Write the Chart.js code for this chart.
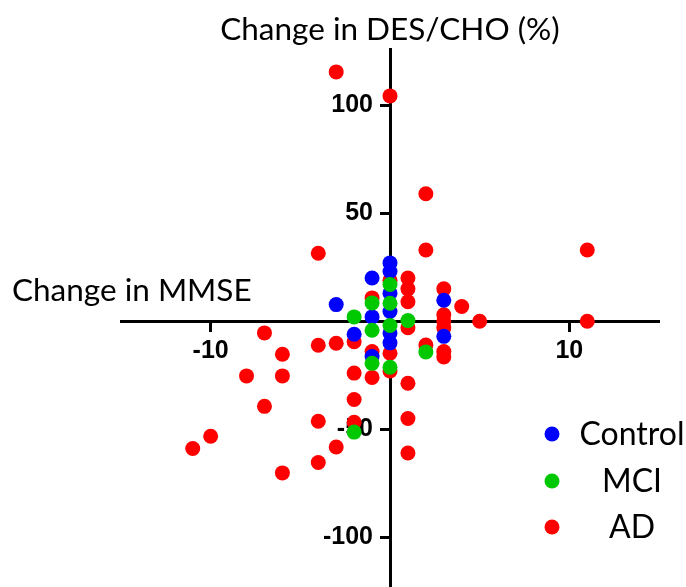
<!DOCTYPE html>
<html>
<head>
<meta charset="utf-8">
<script src="https://cdn.jsdelivr.net/npm/chart.js@4.4.0/dist/chart.umd.min.js"></script>
<style>
  html, body { margin: 0; padding: 0; background: #fff; }
  #wrap { width: 686px; height: 587px; position: relative; }
</style>
</head>
<body>
<div id="wrap"><canvas id="scatterChart"></canvas></div>
<script>
// change in MMSE (x) and change in DES/CHO % (y)
const controlX = [0, 0, 0, 0, 0, 0, -1, -1, -1, -2, -3, 3, 3];
const controlY = [27, 23, 13, 4.5, -5.5, -10, 20, 2, -16.3, -6, 7.7, 9.7, -7];

const mciX = [0, 0, 0, 0, -1, -1, -1, -2, -2, 1, 2];
const mciY = [17, 8.3, -2, -21.3, 8.5, -4.2, -19.5, 2, -51.3, 0.3, -14.2];

const adX = [-3, 0, 2, 2, -4, 11, 11, 5, 4,
  3, 3, 3, 3, 3, 3,
  1, 1, 1, 1, 1, 1, 1,
  2, 0, 0, 0,
  -1, -1, -1,
  -2, -2, -2, -2,
  -3, -3,
  -4, -4, -4,
  -6, -6, -6,
  -7, -7, -8, -10, -11];
const adY = [115.4, 104.3, 59, 33, 31.5, 33, 0, 0, 6.8,
  15, 3, 0, -3, -14, -16.5,
  20, 15, 9, -3, -28.7, -45, -61,
  -11, 19, -14.8, -23,
  10.8, -14, -26,
  -9.5, -24, -36.2, -46.8,
  -10.2, -58.2,
  -11.1, -46.3, -65.4,
  -15.3, -25.3, -70.2,
  -5.4, -39.4, -25.3, -53.2, -58.9];

const xTicks = [-10, 10];
const yTicks = [100, 50, -50, -100];

const groupNames = ['Control', 'MCI', 'AD'];
const groupColors = ['#0000ff', '#00c800', '#ff0000'];

function toPoints(xs, ys) {
  return xs.map((x, i) => ({x: x, y: ys[i]}));
}

function noPadding(scale) {
  scale.paddingLeft = 0;
  scale.paddingRight = 0;
  scale.paddingTop = 0;
  scale.paddingBottom = 0;
}

// the y axis sits at x=0, chart.js puts its labels right on the line, so move them left of the ticks
const shiftYLabels = {
  id: 'shiftYLabels',
  beforeDraw(chart) {
    const s = chart.scales.y;
    const items = s._computeLabelItems(chart.chartArea);
    items.forEach(item => {
      const t = item.options.translation;
      item.options.translation = [t[0] - 17, t[1]];
    });
    s._labelItems = items;
  }
};

// axis titles next to the crossing axes and the legend in the lower right
const titlesAndLegend = {
  id: 'titlesAndLegend',
  afterDraw(chart) {
    const ctx = chart.ctx;
    const axisX = chart.scales.x.getPixelForValue(0);
    const axisY = chart.scales.y.getPixelForValue(0);
    ctx.save();
    ctx.fillStyle = '#000';
    ctx.font = '31.5px Lato';
    ctx.textBaseline = 'alphabetic';
    ctx.textAlign = 'center';
    ctx.fillText('Change in DES/CHO (%)', axisX, 40);
    ctx.textAlign = 'left';
    ctx.fillText('Change in MMSE', 12, axisY - 20);

    ctx.font = '32px Lato';
    ctx.textAlign = 'center';
    ctx.textBaseline = 'middle';
    const rows = [434, 481, 527];
    groupNames.forEach((name, i) => {
      ctx.fillStyle = groupColors[i];
      ctx.beginPath();
      ctx.arc(552, rows[i], 7.5, 0, Math.PI * 2);
      ctx.fill();
      ctx.fillStyle = '#000';
      ctx.fillText(name, 632, rows[i] + 1);
    });
    ctx.restore();
  }
};

const tickFont = {family: 'Liberation Sans', size: 25, weight: 'bold'};

const scatter_config = {
  type: 'scatter',
  data: {
    datasets: [
      {label: groupNames[0], data: toPoints(controlX, controlY), backgroundColor: groupColors[0], order: 1},
      {label: groupNames[1], data: toPoints(mciX, mciY), backgroundColor: groupColors[1], order: 0},
      {label: groupNames[2], data: toPoints(adX, adY), backgroundColor: groupColors[2], order: 2},
    ]
  },
  options: {
    responsive: true,
    maintainAspectRatio: false,
    animation: false,
    layout: {autoPadding: false, padding: {left: 121, right: 27, top: 49, bottom: 0}},
    elements: {point: {radius: 7.5, hoverRadius: 7.5, borderWidth: 0}},
    plugins: {
      legend: {display: false},
      tooltip: {enabled: false}
    },
    scales: {
      x: {
        type: 'linear',
        min: -15,
        max: 15,
        position: {y: 0},
        afterBuildTicks: s => { s.ticks = xTicks.map(v => ({value: v})); },
        afterFit: noPadding,
        border: {display: true, color: '#000', width: 3},
        grid: {drawOnChartArea: false, drawTicks: true, tickLength: 9, tickWidth: 3, tickColor: '#000'},
        ticks: {color: '#000', font: tickFont, padding: 6, autoSkip: false, maxRotation: 0}
      },
      y: {
        type: 'linear',
        min: -123,
        max: 126,
        position: {x: 0},
        afterBuildTicks: s => { s.ticks = yTicks.map(v => ({value: v})); },
        afterFit: noPadding,
        border: {display: true, color: '#000', width: 3},
        grid: {drawOnChartArea: false, drawTicks: true, tickLength: 9, tickWidth: 3, tickColor: '#000'},
        ticks: {color: '#000', font: tickFont, padding: 7, autoSkip: false}
      }
    }
  },
  plugins: [shiftYLabels, titlesAndLegend]
};

new Chart(document.getElementById('scatterChart'), scatter_config);
</script>
</body>
</html>
